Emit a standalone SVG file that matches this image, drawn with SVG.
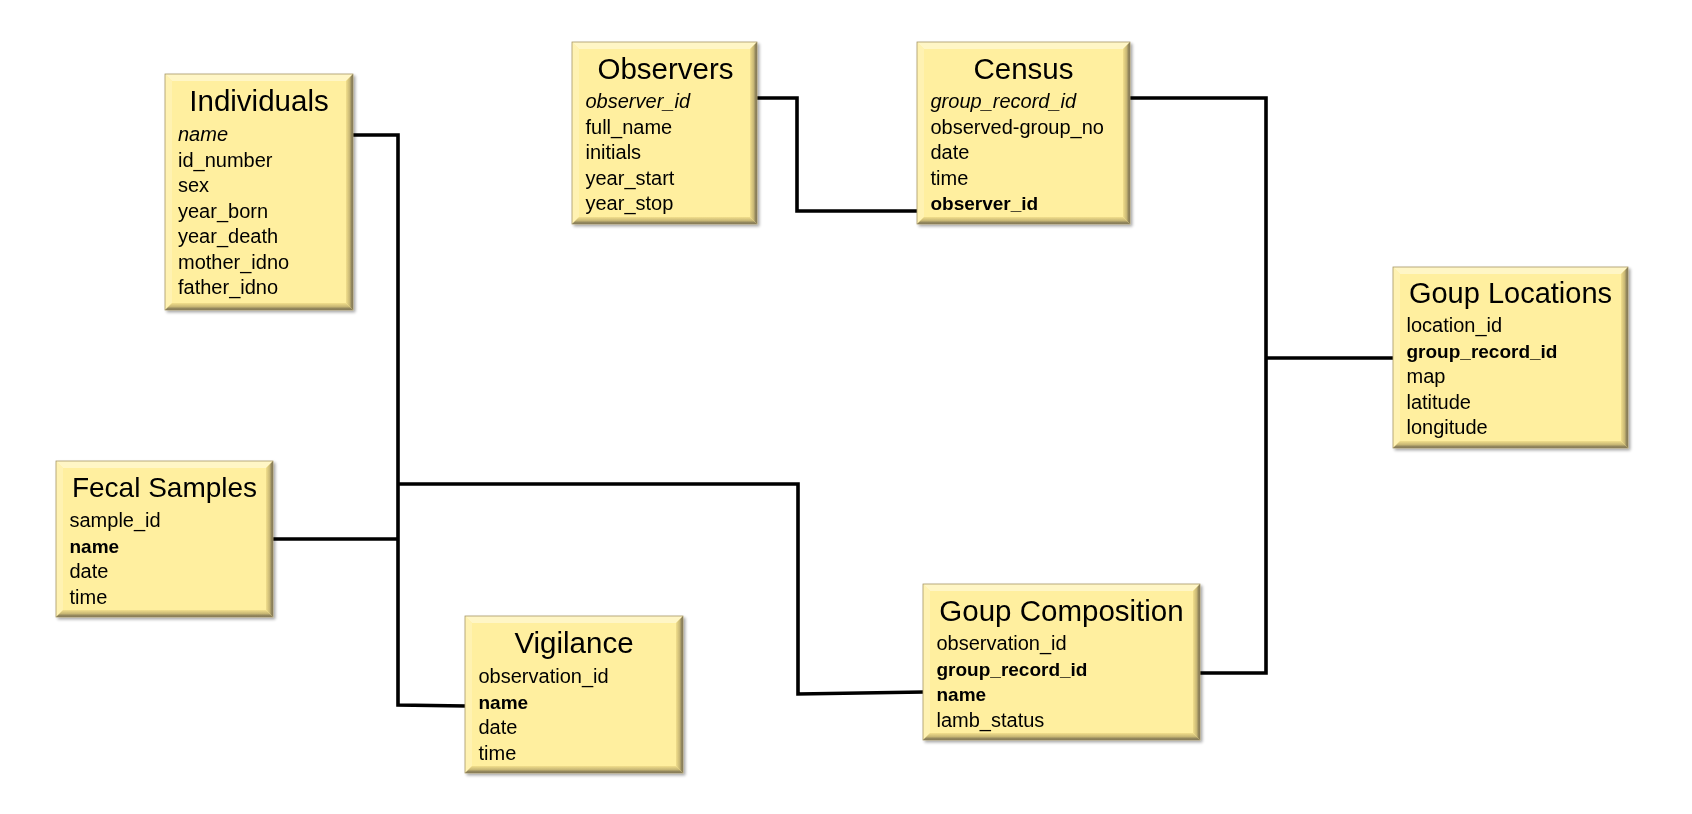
<svg xmlns="http://www.w3.org/2000/svg" width="1692" height="814" viewBox="0 0 1692 814">
<style>
.title{font-family:"Liberation Sans",Arial,sans-serif;font-size:29.5px;fill:#000;text-anchor:middle}
.row{font-family:"Liberation Sans",Arial,sans-serif;font-size:20px;fill:#000}
.it{font-style:italic}
.b{font-weight:bold;font-size:19px}
.base{fill:#FFEF9F}
.tb{fill:#FFF6C6}
.lb{fill:#FFF2B2}
.rb{fill:url(#gr)}
.bb{fill:url(#gb)}
.edge{fill:none;stroke:#A89A68;stroke-width:0.8}
.conn{fill:none;stroke:#000;stroke-width:3.6;stroke-linejoin:miter;stroke-linecap:butt}
</style>
<defs>
<linearGradient id="gr" x1="0" y1="0" x2="1" y2="0"><stop offset="0" stop-color="#F2DF8C"/><stop offset="0.5" stop-color="#C9B874"/><stop offset="1" stop-color="#6A624C"/></linearGradient>
<linearGradient id="gb" x1="0" y1="0" x2="0" y2="1"><stop offset="0" stop-color="#F2DF8C"/><stop offset="0.5" stop-color="#C9B874"/><stop offset="1" stop-color="#6A624C"/></linearGradient>
<filter id="sh" x="-10%" y="-10%" width="130%" height="130%"><feGaussianBlur in="SourceAlpha" stdDeviation="1.5"/><feOffset dx="1.5" dy="2" result="o"/><feComponentTransfer><feFuncA type="linear" slope="0.35"/></feComponentTransfer><feMerge><feMergeNode/><feMergeNode in="SourceGraphic"/></feMerge></filter>
</defs>
<rect width="1692" height="814" fill="#fff"/>
<g id="connectors">
<path class="conn" d="M353,135 H398 V705 L466,706"/>
<path class="conn" d="M273,539 H398"/>
<path class="conn" d="M398,484 H798 V694 L924,692"/>
<path class="conn" d="M757,98 H797 V211 H918"/>
<path class="conn" d="M1130,98 H1266 V673 H1199"/>
<path class="conn" d="M1266,358 H1394"/>
</g>
<g id="individuals" filter="url(#sh)">
<rect class="base" x="165" y="74" width="188" height="236"/>
<polygon class="tb" points="165,74 353,74 346,81 172,81"/>
<polygon class="lb" points="165,74 172,81 172,303 165,310"/>
<polygon class="rb" points="353,74 353,310 346,303 346,81"/>
<polygon class="bb" points="165,310 353,310 346,303 172,303"/>
<rect class="edge" x="165" y="74" width="188" height="236"/>
<text class="title" x="259" y="111">Individuals</text>
<text class="row it" x="178" y="141">name</text>
<text class="row" x="178" y="166.5">id_number</text>
<text class="row" x="178" y="192">sex</text>
<text class="row" x="178" y="217.5">year_born</text>
<text class="row" x="178" y="243">year_death</text>
<text class="row" x="178" y="268.5">mother_idno</text>
<text class="row" x="178" y="294">father_idno</text>
</g>
<g id="observers" filter="url(#sh)">
<rect class="base" x="572" y="42" width="185" height="182"/>
<polygon class="tb" points="572,42 757,42 750,49 579,49"/>
<polygon class="lb" points="572,42 579,49 579,217 572,224"/>
<polygon class="rb" points="757,42 757,224 750,217 750,49"/>
<polygon class="bb" points="572,224 757,224 750,217 579,217"/>
<rect class="edge" x="572" y="42" width="185" height="182"/>
<text class="title" x="665.5" y="79">Observers</text>
<text class="row it" x="585.5" y="108">observer_id</text>
<text class="row" x="585.5" y="133.5">full_name</text>
<text class="row" x="585.5" y="159">initials</text>
<text class="row" x="585.5" y="184.5">year_start</text>
<text class="row" x="585.5" y="210">year_stop</text>
</g>
<g id="census" filter="url(#sh)">
<rect class="base" x="917" y="42" width="213" height="182"/>
<polygon class="tb" points="917,42 1130,42 1123,49 924,49"/>
<polygon class="lb" points="917,42 924,49 924,217 917,224"/>
<polygon class="rb" points="1130,42 1130,224 1123,217 1123,49"/>
<polygon class="bb" points="917,224 1130,224 1123,217 924,217"/>
<rect class="edge" x="917" y="42" width="213" height="182"/>
<text class="title" x="1023.5" y="79">Census</text>
<text class="row it" x="930.5" y="108">group_record_id</text>
<text class="row" x="930.5" y="133.5">observed-group_no</text>
<text class="row" x="930.5" y="159">date</text>
<text class="row" x="930.5" y="184.5">time</text>
<text class="row b" x="930.5" y="210">observer_id</text>
</g>
<g id="goup-locations" filter="url(#sh)">
<rect class="base" x="1393" y="267" width="235" height="181"/>
<polygon class="tb" points="1393,267 1628,267 1621,274 1400,274"/>
<polygon class="lb" points="1393,267 1400,274 1400,441 1393,448"/>
<polygon class="rb" points="1628,267 1628,448 1621,441 1621,274"/>
<polygon class="bb" points="1393,448 1628,448 1621,441 1400,441"/>
<rect class="edge" x="1393" y="267" width="235" height="181"/>
<text class="title" x="1510.5" y="303" style="font-size:29px">Goup Locations</text>
<text class="row" x="1406.5" y="332">location_id</text>
<text class="row b" x="1406.5" y="357.5">group_record_id</text>
<text class="row" x="1406.5" y="383">map</text>
<text class="row" x="1406.5" y="408.5">latitude</text>
<text class="row" x="1406.5" y="434">longitude</text>
</g>
<g id="fecal-samples" filter="url(#sh)">
<rect class="base" x="56" y="461" width="217" height="156"/>
<polygon class="tb" points="56,461 273,461 266,468 63,468"/>
<polygon class="lb" points="56,461 63,468 63,610 56,617"/>
<polygon class="rb" points="273,461 273,617 266,610 266,468"/>
<polygon class="bb" points="56,617 273,617 266,610 63,610"/>
<rect class="edge" x="56" y="461" width="217" height="156"/>
<text class="title" x="164.5" y="497" style="font-size:28px">Fecal Samples</text>
<text class="row" x="69.5" y="527">sample_id</text>
<text class="row b" x="69.5" y="552.5">name</text>
<text class="row" x="69.5" y="578">date</text>
<text class="row" x="69.5" y="603.5">time</text>
</g>
<g id="vigilance" filter="url(#sh)">
<rect class="base" x="465" y="616" width="218" height="157"/>
<polygon class="tb" points="465,616 683,616 676,623 472,623"/>
<polygon class="lb" points="465,616 472,623 472,766 465,773"/>
<polygon class="rb" points="683,616 683,773 676,766 676,623"/>
<polygon class="bb" points="465,773 683,773 676,766 472,766"/>
<rect class="edge" x="465" y="616" width="218" height="157"/>
<text class="title" x="574" y="653">Vigilance</text>
<text class="row" x="478.5" y="683">observation_id</text>
<text class="row b" x="478.5" y="708.5">name</text>
<text class="row" x="478.5" y="734">date</text>
<text class="row" x="478.5" y="759.5">time</text>
</g>
<g id="goup-composition" filter="url(#sh)">
<rect class="base" x="923" y="584" width="277" height="156"/>
<polygon class="tb" points="923,584 1200,584 1193,591 930,591"/>
<polygon class="lb" points="923,584 930,591 930,733 923,740"/>
<polygon class="rb" points="1200,584 1200,740 1193,733 1193,591"/>
<polygon class="bb" points="923,740 1200,740 1193,733 930,733"/>
<rect class="edge" x="923" y="584" width="277" height="156"/>
<text class="title" x="1061.5" y="621">Goup Composition</text>
<text class="row" x="936.5" y="650">observation_id</text>
<text class="row b" x="936.5" y="675.5">group_record_id</text>
<text class="row b" x="936.5" y="701">name</text>
<text class="row" x="936.5" y="726.5">lamb_status</text>
</g>
</svg>
